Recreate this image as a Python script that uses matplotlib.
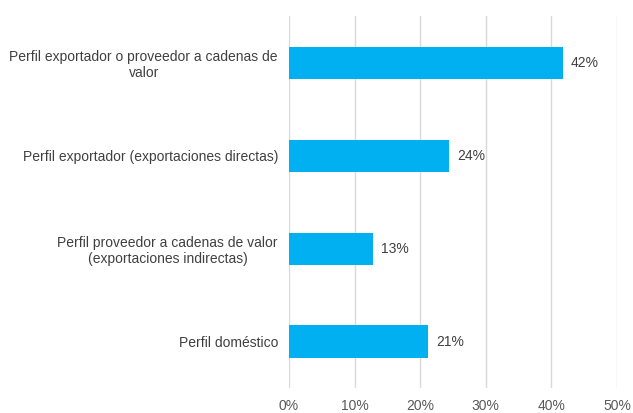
import matplotlib.pyplot as plt
from matplotlib.ticker import FuncFormatter

categorias = ['Perfil exportador o proveedor a cadenas de\nvalor',
              'Perfil exportador (exportaciones directas)',
              'Perfil proveedor a cadenas de valor\n(exportaciones indirectas)',
              'Perfil doméstico']
valores = [41.8, 24.4, 12.8, 21.2]
etiquetas = ['42%', '24%', '13%', '21%']
ticks = [0, 10, 20, 30, 40, 50]

plt.rcParams['font.family'] = ['Liberation Sans', 'DejaVu Sans']

fig = plt.figure(figsize=(6.33, 4.13), dpi=100)
ax = fig.add_axes([0.4566, 0.0605, 0.518, 0.9005])

pos = list(range(len(categorias)))[::-1]
ax.barh(pos, valores, height=0.345, color='#00B0F0', zorder=3)

for p, v, t in zip(pos, valores, etiquetas):
    ax.text(v + 1.2, p, t, va='center', ha='left', fontsize=10, color='#404040')

ax.set_yticks(pos)
ax.set_yticklabels(categorias, fontsize=10, color='#404040', ha='right',
                   multialignment='center')
ax.tick_params(axis='y', length=0, pad=8)
ax.set_ylim(-0.5, len(categorias) - 0.5)

ax.set_xlim(0, 50)
ax.set_xticks(ticks)
ax.xaxis.set_major_formatter(FuncFormatter(lambda x, _: '%d%%' % x))
ax.tick_params(axis='x', length=0, pad=8, labelsize=10, labelcolor='#595959')
ax.grid(axis='x', color='#D9D9D9', linewidth=1, zorder=0)

for s in ax.spines.values():
    s.set_visible(False)

fig.savefig('out.png', dpi=100)
